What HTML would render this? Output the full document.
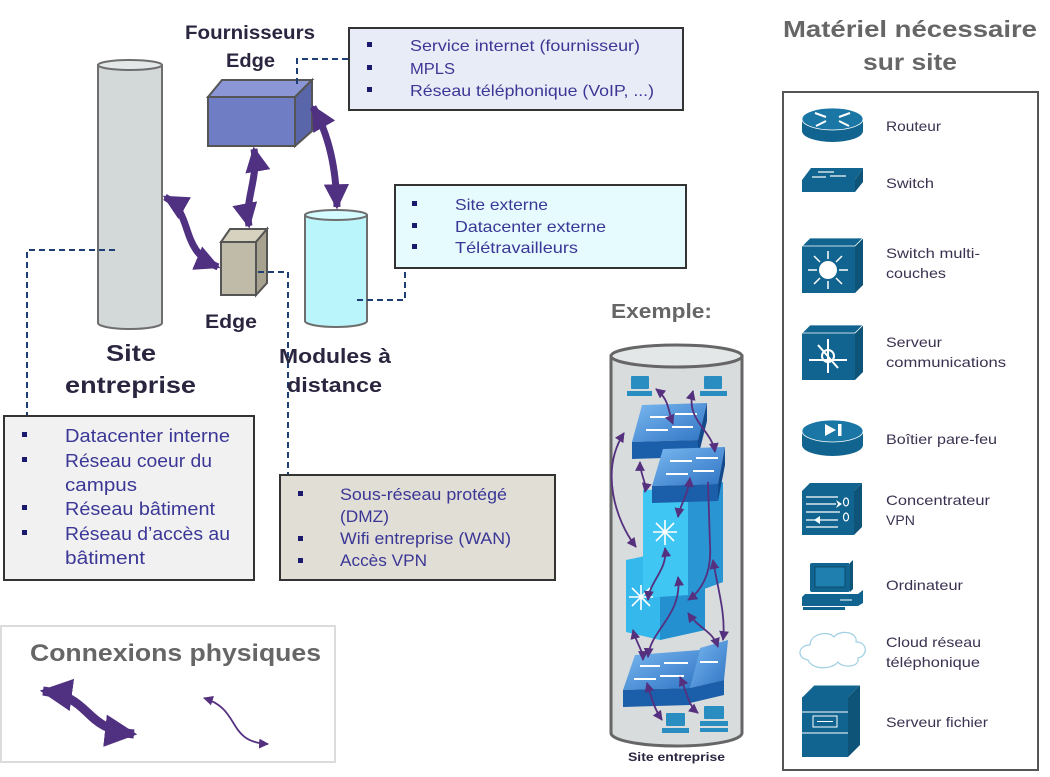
<!DOCTYPE html>
<html><head><meta charset="utf-8"><style>
html,body{margin:0;padding:0;background:#fff;}
svg{display:block;font-family:"Liberation Sans",sans-serif;}
.bx{fill:#3b3796;}
.bl{fill:#1c1a6e;}
.hd{fill:#2b2540;font-weight:bold;}
.gr{fill:#666;font-weight:bold;}
.lb{fill:#3b3150;font-size:14px;}
.ic{fill:#11648f;}
.dash{fill:none;stroke:#1f3f74;stroke-width:2;stroke-dasharray:6 4;}
.thick{fill:none;stroke:#503080;stroke-width:7;}
.thin{fill:none;stroke:#55307f;stroke-width:1.8;}
</style></head><body>
<svg width="1050" height="777" viewBox="0 0 1050 777" xmlns="http://www.w3.org/2000/svg">
<defs>
<marker id="ah" viewBox="0 0 10 10" refX="9" refY="5" markerWidth="3.6" markerHeight="3.6" orient="auto-start-reverse"><path d="M0,0 L10,5 L0,10 z" fill="#503080"/></marker>
<marker id="ahs" viewBox="0 0 10 10" refX="9" refY="5" markerWidth="5.5" markerHeight="5.5" orient="auto-start-reverse"><path d="M0,0 L10,5 L0,10 z" fill="#55307f"/></marker>
<linearGradient id="swt" x1="0" y1="0" x2="1" y2="1"><stop offset="0" stop-color="#7ab8f0"/><stop offset="1" stop-color="#2f74c4"/></linearGradient>
</defs>

<!-- big grey cylinder -->
<path d="M98,65 V323 A32,6 0 0 0 162,323 V65 Z" fill="#d3d8d8" stroke="#6e6e6e" stroke-width="2"/>
<ellipse cx="130" cy="65" rx="32" ry="5" fill="#e4e8e8" stroke="#6e6e6e" stroke-width="2"/>

<!-- cyan cylinder -->
<path d="M305,215 V321 A31,6 0 0 0 367,321 V215 Z" fill="#b9f5fb" stroke="#6e6e6e" stroke-width="2"/>
<ellipse cx="336" cy="215" rx="31" ry="5" fill="#d4fbff" stroke="#6e6e6e" stroke-width="2"/>

<!-- blue provider box -->
<polygon points="208,97 222,80 312,80 295,97" fill="#8a96d6" stroke="#555" stroke-width="2"/>
<polygon points="295,97 312,80 312,131 295,146" fill="#5a66aa" stroke="#555" stroke-width="2"/>
<rect x="208" y="97" width="87" height="49" fill="#6f7ec4" stroke="#555" stroke-width="2"/>

<!-- edge box -->
<polygon points="221,242 230,229 267,229 256,242" fill="#d7d1c0" stroke="#555" stroke-width="2"/>
<polygon points="256,242 267,229 267,283 256,295" fill="#a7a190" stroke="#555" stroke-width="2"/>
<rect x="221" y="242" width="35" height="53" fill="#c0baa8" stroke="#555" stroke-width="2"/>

<!-- dashed connectors -->
<path class="dash" d="M115,250 H27 V416"/>
<path class="dash" d="M258,272 H288 V475"/>
<path class="dash" d="M297,84 V59 H349"/>
<path class="dash" d="M357,300 H405 V268"/>

<!-- thick arrows -->
<path class="thick" d="M254,149 C259,178 244,200 249,226" marker-start="url(#ah)" marker-end="url(#ah)"/>
<path class="thick" d="M313,107 C330,137 336,170 337,207" marker-start="url(#ah)" marker-end="url(#ah)"/>
<path class="thick" d="M165,197 C195,214 178,250 218,267" marker-start="url(#ah)" marker-end="url(#ah)"/>

<!-- headings -->
<text class="hd" x="185" y="39" font-size="19" textLength="130" lengthAdjust="spacingAndGlyphs">Fournisseurs</text>
<text class="hd" x="226" y="67" font-size="19" textLength="49" lengthAdjust="spacingAndGlyphs">Edge</text>
<text class="hd" x="205" y="328" font-size="19" textLength="52" lengthAdjust="spacingAndGlyphs">Edge</text>
<text class="hd" x="106" y="361" font-size="23" textLength="50" lengthAdjust="spacingAndGlyphs">Site</text>
<text class="hd" x="65" y="393" font-size="23" textLength="131" lengthAdjust="spacingAndGlyphs">entreprise</text>
<text class="hd" x="279" y="363" font-size="20" textLength="112" lengthAdjust="spacingAndGlyphs">Modules à</text>
<text class="hd" x="287" y="392" font-size="20" textLength="95" lengthAdjust="spacingAndGlyphs">distance</text>

<!-- box 1 -->
<rect x="349" y="28" width="334" height="82" fill="#e8ecf6" stroke="#333" stroke-width="2"/>
<rect class="bl" x="367" y="42" width="5" height="5"/><rect class="bl" x="367" y="65" width="5" height="5"/><rect class="bl" x="367" y="87" width="5" height="5"/>
<g class="bx" font-size="16" lengthAdjust="spacingAndGlyphs">
<text x="410" y="51" textLength="230" lengthAdjust="spacingAndGlyphs">Service internet (fournisseur)</text>
<text x="410" y="74" textLength="45" lengthAdjust="spacingAndGlyphs">MPLS</text>
<text x="410" y="96" textLength="244" lengthAdjust="spacingAndGlyphs">Réseau téléphonique (VoIP, ...)</text>
</g>

<!-- box 2 -->
<rect x="395" y="185" width="291" height="83" fill="#e6fbfd" stroke="#333" stroke-width="2"/>
<rect class="bl" x="412" y="201" width="5" height="5"/><rect class="bl" x="412" y="223" width="5" height="5"/><rect class="bl" x="412" y="244" width="5" height="5"/>
<g class="bx" font-size="16">
<text x="455" y="210" textLength="93" lengthAdjust="spacingAndGlyphs">Site externe</text>
<text x="455" y="232" textLength="151" lengthAdjust="spacingAndGlyphs">Datacenter externe</text>
<text x="455" y="253" textLength="123" lengthAdjust="spacingAndGlyphs">Télétravailleurs</text>
</g>

<!-- box 3 -->
<rect x="4" y="416" width="250" height="164" fill="#f1f1f1" stroke="#333" stroke-width="2"/>
<g class="bl"><rect x="22" y="432" width="5" height="5"/><rect x="22" y="457" width="5" height="5"/><rect x="22" y="505" width="5" height="5"/><rect x="22" y="530" width="5" height="5"/></g>
<g class="bx" font-size="18">
<text x="65" y="442" textLength="165" lengthAdjust="spacingAndGlyphs">Datacenter interne</text>
<text x="65" y="467" textLength="147" lengthAdjust="spacingAndGlyphs">Réseau coeur du</text>
<text x="65" y="491" textLength="72" lengthAdjust="spacingAndGlyphs">campus</text>
<text x="65" y="515" textLength="150" lengthAdjust="spacingAndGlyphs">Réseau bâtiment</text>
<text x="65" y="540" textLength="165" lengthAdjust="spacingAndGlyphs">Réseau d’accès au</text>
<text x="65" y="564" textLength="80" lengthAdjust="spacingAndGlyphs">bâtiment</text>
</g>

<!-- box 4 -->
<rect x="280" y="475" width="275" height="105" fill="#e1ded6" stroke="#333" stroke-width="2"/>
<g class="bl"><rect x="298" y="491" width="5" height="5"/><rect x="298" y="536" width="5" height="5"/><rect x="298" y="558" width="5" height="5"/></g>
<g class="bx" font-size="16.5">
<text x="340" y="500" textLength="167" lengthAdjust="spacingAndGlyphs">Sous-réseau protégé</text>
<text x="340" y="522" textLength="49" lengthAdjust="spacingAndGlyphs">(DMZ)</text>
<text x="340" y="544" textLength="171" lengthAdjust="spacingAndGlyphs">Wifi entreprise (WAN)</text>
<text x="340" y="566" textLength="87" lengthAdjust="spacingAndGlyphs">Accès VPN</text>
</g>

<!-- legend -->
<rect x="1" y="626" width="334" height="136" fill="#fff" stroke="#dcdcdc" stroke-width="2"/>
<text class="gr" x="30" y="661" font-size="24" textLength="291" lengthAdjust="spacingAndGlyphs">Connexions physiques</text>
<path class="thick" style="stroke-width:9" d="M43,691 C95,698 80,728 134,734" marker-start="url(#ah)" marker-end="url(#ah)"/>
<path class="thin" d="M204,698 C242,710 226,742 268,744" marker-start="url(#ahs)" marker-end="url(#ahs)"/>

<!-- right panel -->
<text class="gr" x="783" y="37" font-size="23" textLength="254" lengthAdjust="spacingAndGlyphs">Matériel nécessaire</text>
<text class="gr" x="863" y="70" font-size="23" textLength="94" lengthAdjust="spacingAndGlyphs">sur site</text>
<rect x="783" y="92" width="255" height="678" fill="#fff" stroke="#555" stroke-width="2"/>

<!-- router -->
<path class="ic" d="M802,119 V131 A30.5,11 0 0 0 863,131 V119 Z"/>
<ellipse cx="832.5" cy="119" rx="30.5" ry="11" fill="#1a76a4" stroke="#fff" stroke-width="0.8"/>
<g stroke="#fff" stroke-width="2" fill="none"><path d="M815,113 L826,117"/><path d="M850,113 L839,117"/><path d="M816,126 L826,121"/><path d="M849,126 L839,121"/></g>
<text class="lb" x="886" y="131" textLength="55" lengthAdjust="spacingAndGlyphs">Routeur</text>

<!-- switch -->
<polygon class="ic" points="811,168 863,168 855,180 802,180"/>
<rect class="ic" x="802" y="180" width="53" height="12"/>
<polygon points="855,180 863,168 863,182 855,192" fill="#0d5478"/>
<g stroke="#fff" stroke-width="1.2"><path d="M818,172 H834"/><path d="M830,176 H846"/><path d="M812,177 H826"/></g>
<text class="lb" x="886" y="188" textLength="48" lengthAdjust="spacingAndGlyphs">Switch</text>

<!-- multilayer -->
<polygon class="ic" points="802,246 810,238 863,238 855,246"/>
<polygon points="855,246 863,238 863,285 855,293" fill="#0d5478"/>
<rect class="ic" x="802" y="246" width="53" height="47"/>
<polygon points="802,246 810,238 863,238 855,246" fill="none" stroke="#fff" stroke-width="0.8"/>
<circle cx="828" cy="270" r="9" fill="#fff"/>
<g stroke="#fff" stroke-width="1.5"><path d="M828,251 V259"/><path d="M828,281 V289"/><path d="M808,270 H817"/><path d="M839,270 H848"/><path d="M814,256 L820,262"/><path d="M842,256 L836,262"/><path d="M814,284 L820,278"/><path d="M842,284 L836,278"/></g>
<text class="lb" x="886" y="258" textLength="94" lengthAdjust="spacingAndGlyphs">Switch multi-</text>
<text class="lb" x="886" y="278" textLength="60" lengthAdjust="spacingAndGlyphs">couches</text>

<!-- comm server -->
<polygon class="ic" points="802,333 810,325 863,325 855,333"/>
<polygon points="855,333 863,325 863,372 855,380" fill="#0d5478"/>
<rect class="ic" x="802" y="333" width="53" height="47"/>
<polygon points="802,333 810,325 863,325 855,333" fill="none" stroke="#fff" stroke-width="0.8"/>
<g stroke="#fff" stroke-width="2" fill="none"><circle cx="828" cy="356" r="6"/><path d="M828,339 V373"/><path d="M809,360 H847"/><path d="M818,345 L838,368"/></g>
<text class="lb" x="886" y="347" textLength="56" lengthAdjust="spacingAndGlyphs">Serveur</text>
<text class="lb" x="886" y="367" textLength="120" lengthAdjust="spacingAndGlyphs">communications</text>

<!-- firewall -->
<path class="ic" d="M802,431 V445 A30.5,11 0 0 0 863,445 V431 Z"/>
<ellipse cx="832.5" cy="431" rx="30.5" ry="11" fill="#1a76a4" stroke="#fff" stroke-width="0.8"/>
<polygon points="825,424 825,436 836,430" fill="#fff"/><rect x="838" y="424" width="3.5" height="12" fill="#fff"/>
<text class="lb" x="886" y="444" textLength="111" lengthAdjust="spacingAndGlyphs">Boîtier pare-feu</text>

<!-- VPN -->
<polygon class="ic" points="802,491 810,483 862,483 854,491"/>
<polygon points="854,491 862,483 862,527 854,535" fill="#0d5478"/>
<rect class="ic" x="802" y="491" width="52" height="44"/>
<g stroke="#fff" stroke-width="1.2" fill="none"><path d="M806,497 H838 M806,504 H836 M806,512 H840 M806,520 H838 M806,527 H838"/><ellipse cx="846" cy="502" rx="2.5" ry="4"/><ellipse cx="846" cy="517" rx="2.5" ry="4"/></g>
<polygon points="830,504 838,504 836,500 842,504 836,508 838,504" fill="#fff"/>
<polygon points="814,520 820,516 820,524" fill="#fff"/>
<text class="lb" x="886" y="505" textLength="104" lengthAdjust="spacingAndGlyphs">Concentrateur</text>
<text class="lb" x="886" y="525" textLength="29" lengthAdjust="spacingAndGlyphs">VPN</text>

<!-- computer -->
<rect class="ic" x="810" y="563" width="40" height="29" rx="2"/>
<polygon points="850,563 853,560 853,589 850,592" fill="#0d5478"/>
<rect x="815" y="567" width="30" height="20" fill="#1f7fae" stroke="#0a4d70"/>
<polygon class="ic" points="805,594 858,594 863,590 863,603 858,606 802,606 802,597"/>
<rect x="803" y="607" width="42" height="3" fill="#11648f"/>
<path d="M840,600 H852" stroke="#fff" stroke-width="1"/>
<text class="lb" x="886" y="590" textLength="77" lengthAdjust="spacingAndGlyphs">Ordinateur</text>

<!-- cloud -->
<path d="M808,660 C796,658 798,645 810,645 C810,634 828,630 834,637 C840,629 858,632 856,642 C868,642 868,656 858,658 C860,668 842,668 838,662 C832,670 812,670 808,660 Z" fill="#fff" stroke="#9fd0e3" stroke-width="1.2"/>
<text class="lb" x="886" y="647" textLength="95" lengthAdjust="spacingAndGlyphs">Cloud réseau</text>
<text class="lb" x="886" y="667" textLength="94" lengthAdjust="spacingAndGlyphs">téléphonique</text>

<!-- file server -->
<polygon class="ic" points="802,697 814,685 860,685 848,697"/>
<polygon points="848,697 860,685 860,745 848,757" fill="#0d5478"/>
<rect class="ic" x="802" y="697" width="46" height="60"/>
<g stroke="#fff" stroke-width="1" fill="none"><path d="M802,697 L814,685 H860"/><path d="M802,712 H848"/><path d="M802,733 H848"/><rect x="813" y="716" width="24" height="11"/><path d="M817,721.5 H833"/></g>
<text class="lb" x="886" y="727" textLength="102" lengthAdjust="spacingAndGlyphs">Serveur fichier</text>

<!-- example -->
<text class="gr" x="611" y="318" font-size="20" textLength="101" lengthAdjust="spacingAndGlyphs">Exemple:</text>
<path d="M611,356 V733 A65.5,13 0 0 0 742,733 V356 Z" fill="#d8dcdc" stroke="#666" stroke-width="3"/>
<ellipse cx="676.5" cy="356" rx="65.5" ry="11" fill="#e4e7e7" stroke="#666" stroke-width="3"/>

<!-- multilayer lower -->
<polygon points="626,560 660,553 705,553 705,630 660,640 626,632" fill="#35b8ec"/>
<polygon points="660,553 705,548 705,630 660,640" fill="#2590d0"/>
<!-- multilayer upper -->
<polygon points="643,490 690,488 723,482 723,582 688,595 643,598" fill="#3fc6f2"/>
<polygon points="688,490 723,482 723,582 688,595" fill="#2a95d3"/>
<g stroke="#fff" stroke-width="1.6"><path d="M665,520 V545 M653,532 H677 M656,523 L674,541 M674,523 L656,541"/><path d="M641,585 V610 M629,597 H653 M632,588 L650,606 M650,588 L632,606"/></g>

<!-- top switches -->
<polygon points="642,405 707,403 698,440 632,442" fill="url(#swt)"/>
<polygon points="632,442 698,440 698,457 632,459" fill="#1b5eaa"/>
<polygon points="698,440 707,403 707,421 698,457" fill="#134a8c"/>
<g stroke="#fff" stroke-width="2"><path d="M650,417 H672 M675,414 H697 M646,430 H668 M672,427 H693"/></g>
<polygon points="663,449 725,447 718,484 652,486" fill="url(#swt)"/>
<polygon points="652,486 718,484 718,501 652,503" fill="#1b5eaa"/>
<polygon points="718,484 725,447 725,465 718,501" fill="#134a8c"/>
<g stroke="#fff" stroke-width="2"><path d="M670,461 H692 M696,458 H718 M666,474 H688 M693,471 H714"/></g>

<!-- bottom switches -->
<polygon points="700,648 728,640 724,680 690,688" fill="url(#swt)"/>
<polygon points="690,688 724,680 724,695 690,703" fill="#1b5eaa"/>
<polygon points="635,655 700,650 690,688 623,690" fill="url(#swt)"/>
<polygon points="623,690 690,688 690,705 623,707" fill="#1b5eaa"/>
<g stroke="#fff" stroke-width="2"><path d="M640,666 H660 M664,663 H688 M634,679 H656 M660,676 H684 M700,662 H718"/></g>

<!-- small computers -->
<g fill="#2a8dc2">
<rect x="631" y="376" width="18" height="13" rx="1"/><rect x="627" y="391" width="25" height="5"/>
<rect x="704" y="376" width="18" height="13" rx="1"/><rect x="700" y="391" width="27" height="5"/>
<rect x="666" y="713" width="19" height="13" rx="1"/><rect x="662" y="728" width="27" height="5"/>
<rect x="704" y="706" width="20" height="13" rx="1"/><rect x="700" y="721" width="28" height="5"/><rect x="700" y="728" width="28" height="4"/>
</g>

<!-- example thin arrows -->
<g>
<path class="thin" d="M656,389 C670,400 668,412 673,424" marker-start="url(#ahs)" marker-end="url(#ahs)"/>
<path class="thin" d="M693,391 C685,420 712,430 715,452" marker-start="url(#ahs)" marker-end="url(#ahs)"/>
<path class="thin" d="M624,433 C600,470 615,520 636,547" marker-start="url(#ahs)" marker-end="url(#ahs)"/>
<path class="thin" d="M640,462 C640,475 647,482 645,492" marker-start="url(#ahs)" marker-end="url(#ahs)"/>
<path class="thin" d="M690,478 C688,495 680,505 678,517" marker-start="url(#ahs)" marker-end="url(#ahs)"/>
<path class="thin" d="M708,482 L710,545 C712,575 700,592 688,600" marker-end="url(#ahs)"/>
<path class="thin" d="M665,548 C668,570 650,580 648,600" marker-start="url(#ahs)" marker-end="url(#ahs)"/>
<path class="thin" d="M678,577 C683,615 650,630 648,657" marker-start="url(#ahs)" marker-end="url(#ahs)"/>
<path class="thin" d="M633,630 C637,645 643,650 643,660" marker-start="url(#ahs)" marker-end="url(#ahs)"/>
<path class="thin" d="M688,613 C700,630 712,630 718,647" marker-start="url(#ahs)" marker-end="url(#ahs)"/>
<path class="thin" d="M713,560 C718,590 726,615 723,640" marker-start="url(#ahs)" marker-end="url(#ahs)"/>
<path class="thin" d="M647,683 C652,700 655,710 662,720" marker-start="url(#ahs)" marker-end="url(#ahs)"/>
<path class="thin" d="M680,677 C688,695 688,705 698,713" marker-start="url(#ahs)" marker-end="url(#ahs)"/>
</g>
<text x="628" y="761" font-size="12" font-weight="bold" fill="#2b2540" textLength="97" lengthAdjust="spacingAndGlyphs">Site entreprise</text>
</svg>
</body></html>
